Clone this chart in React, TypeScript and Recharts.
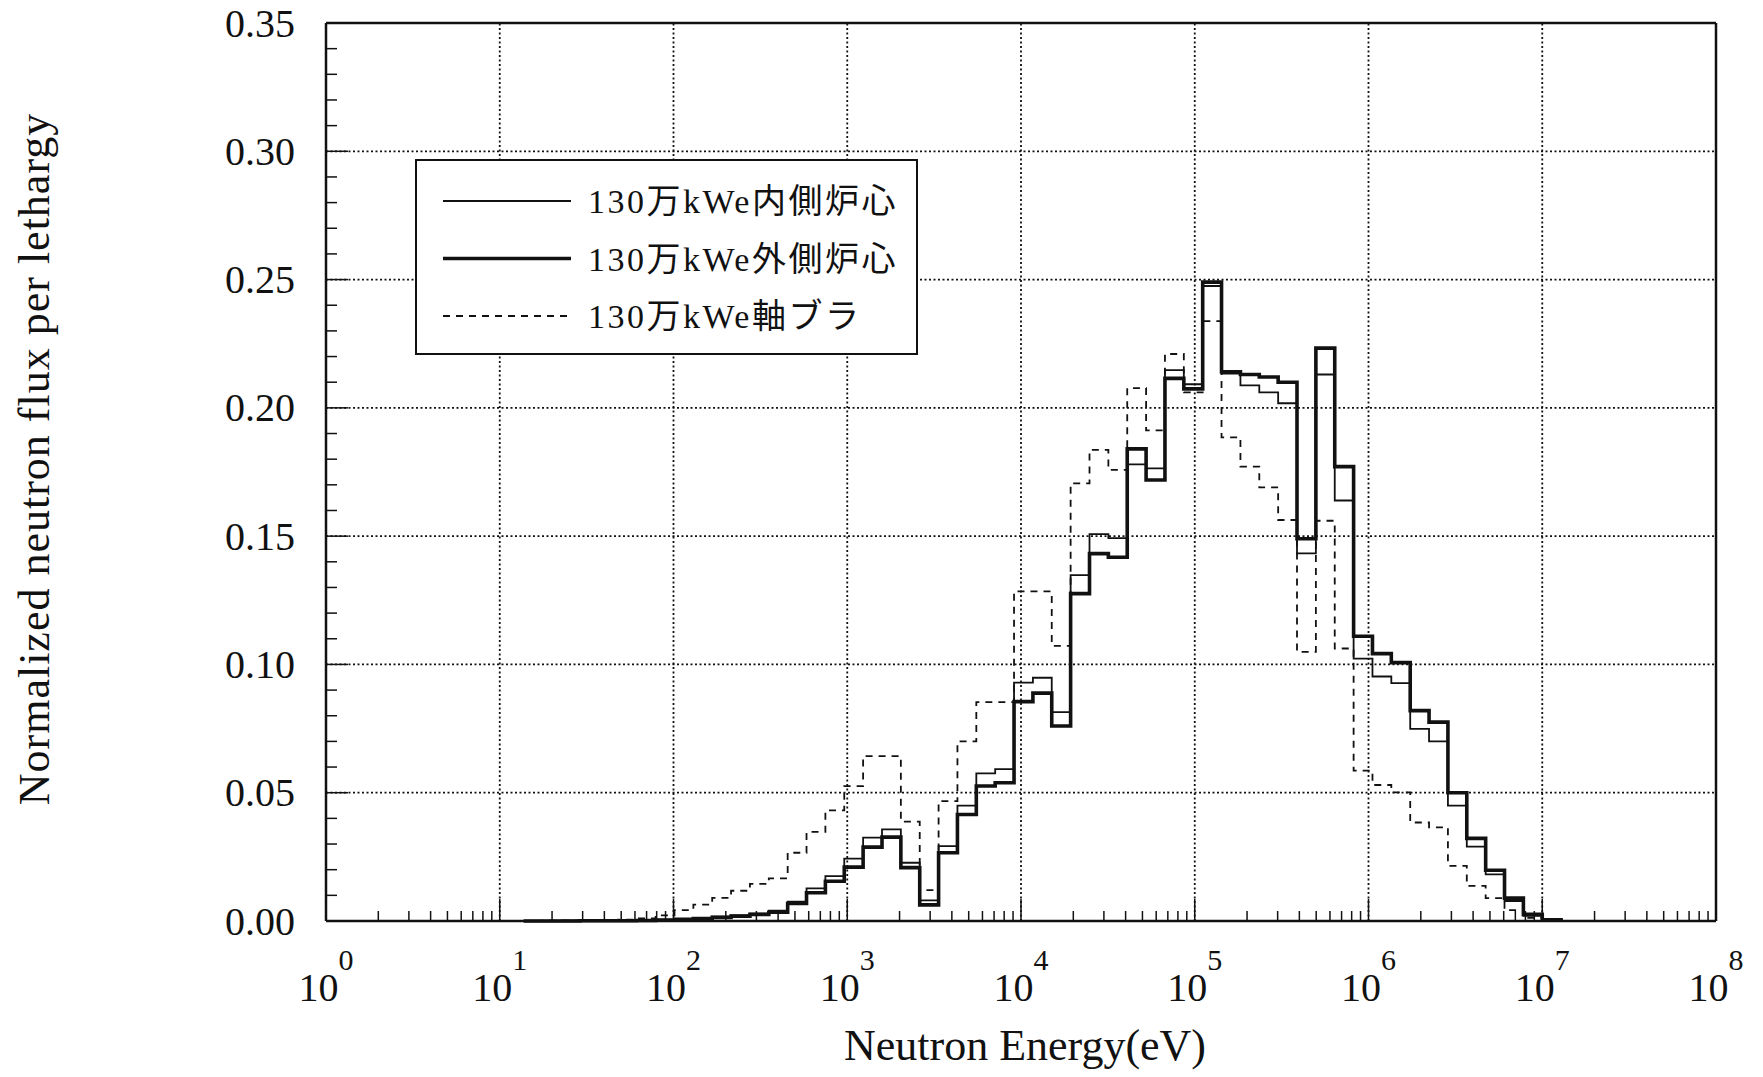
import React from 'react';
import { LineChart, Line, XAxis, YAxis, ReferenceLine } from 'recharts';

// lower edge of each energy group (eV), lowest first, last entry closes the top group
const EDGES_EV = [
  13.71, 17.6, 22.6, 29.02, 37.27, 47.85, 61.44, 78.89, 101.3, 130.1,
  167.0, 214.4, 275.4, 353.6, 454.0, 582.9, 748.5, 961.1, 1234, 1585,
  2035, 2613, 3355, 4307, 5531, 7102, 9119, 11710, 15030, 19300,
  24790, 31830, 40870, 52480, 67380, 86520, 111100, 142600, 183200, 235200,
  302000, 387700, 497900, 639300, 820900, 1054000, 1353000, 1738000, 2231000, 2865000,
  3679000, 4724000, 6065000, 7788000, 10000000, 12840000,
];

// 130万kWe内側炉心 (thin)
const INNER_CORE = [
  0.0, 0.0, 0.0001, 0.0001, 0.0001, 0.0002, 0.0003, 0.0005, 0.0008, 0.0012,
  0.0017, 0.0022, 0.0029, 0.004, 0.0075, 0.0127, 0.0175, 0.0243, 0.0325, 0.0357,
  0.0227, 0.008, 0.0292, 0.045, 0.0575, 0.0592, 0.0929, 0.0948, 0.0814, 0.1348,
  0.1508, 0.1492, 0.178, 0.1764, 0.2147, 0.2092, 0.2475, 0.2134, 0.2088, 0.206,
  0.2018, 0.1433, 0.213, 0.1639, 0.1023, 0.0953, 0.0927, 0.0749, 0.07, 0.045,
  0.029, 0.0182, 0.0078, 0.002, 0.0003, 0,
];

// 130万kWe外側炉心 (thick)
const OUTER_CORE = [
  0.0, 0.0, 0.0, 0.0001, 0.0001, 0.0001, 0.0002, 0.0004, 0.0007, 0.001,
  0.0014, 0.0019, 0.0026, 0.0034, 0.0068, 0.011, 0.0155, 0.021, 0.0288, 0.0327,
  0.0208, 0.0063, 0.0266, 0.0415, 0.0526, 0.0539, 0.0855, 0.0888, 0.076, 0.1276,
  0.1432, 0.1418, 0.184, 0.1719, 0.2115, 0.2074, 0.249, 0.2141, 0.213, 0.212,
  0.21, 0.149, 0.2233, 0.1771, 0.111, 0.1042, 0.1007, 0.082, 0.0775, 0.05,
  0.0322, 0.0198, 0.0089, 0.0026, 0.0005, 0,
];

// 130万kWe軸ブラ (dashed)
const AXIAL_BLANKET = [
  0.0, 0.0001, 0.0001, 0.0002, 0.0003, 0.0005, 0.001, 0.0022, 0.0042, 0.0064,
  0.009, 0.0118, 0.0145, 0.0166, 0.0266, 0.0347, 0.0431, 0.0526, 0.0643, 0.0643,
  0.0387, 0.012, 0.0467, 0.07, 0.0853, 0.0853, 0.1285, 0.1285, 0.1072, 0.1706,
  0.1836, 0.1758, 0.2077, 0.1912, 0.221, 0.206, 0.2338, 0.1885, 0.1771, 0.169,
  0.1563, 0.1049, 0.156, 0.1062, 0.0586, 0.053, 0.0501, 0.0384, 0.0365, 0.0215,
  0.0137, 0.0089, 0.0042, 0.0012, 0.0002, 0,
];

const DECADES = [1, 10, 100, 1e3, 1e4, 1e5, 1e6, 1e7, 1e8];
const X_TICKS = DECADES.flatMap((d) =>
  d === 1e8 ? [d] : [1, 2, 3, 4, 5, 6, 7, 8, 9].map((m) => m * d)
);
const Y_MAJOR = [0, 0.05, 0.1, 0.15, 0.2, 0.25, 0.3, 0.35];
const Y_LABELS = ['0.00', '0.05', '0.10', '0.15', '0.20', '0.25', '0.30', '0.35'];
const Y_TICKS = Array.from({ length: 36 }, (_, i) => i / 100);

const LEGEND = [
  { name: '130万kWe内側炉心', width: 1.8, dash: undefined },
  { name: '130万kWe外側炉心', width: 3.6, dash: undefined },
  { name: '130万kWe軸ブラ', width: 1.8, dash: '7 6' },
];

const data = EDGES_EV.map((e, i) => ({
  energy: e,
  inner: INNER_CORE[i],
  outer: OUTER_CORE[i],
  blanket: AXIAL_BLANKET[i],
}));

const SERIF = "'Liberation Serif', 'Times New Roman', serif";
const INK = '#111';

const XTick = (props: any) => {
  const { x, y, payload } = props;
  const v = payload.value;
  const exp = Math.round(Math.log10(v));
  const major = Math.abs(v - Math.pow(10, exp)) < v * 1e-9;
  return (
    <g>
      <line x1={x} x2={x} y1={y} y2={y - (major ? 22 : 10)} stroke={INK} strokeWidth={1.5} />
      {major && (
        <text x={x} y={y + 80} textAnchor="middle" fontFamily={SERIF} fontSize={40} fill={INK}>
          <tspan>10</tspan>
          <tspan dy={-31} fontSize={30}>{exp}</tspan>
        </text>
      )}
    </g>
  );
};

const YTick = (props: any) => {
  const { x, y, payload } = props;
  const idx = Y_MAJOR.findIndex((m) => Math.abs(m - payload.value) < 1e-9);
  const major = idx >= 0;
  return (
    <g>
      <line x1={x} x2={x + (major ? 22 : 11)} y1={y} y2={y} stroke={INK} strokeWidth={1.5} />
      {major && (
        <text x={x - 31} y={y} textAnchor="end" dominantBaseline="central" fontFamily={SERIF} fontSize={40} fill={INK}>
          {Y_LABELS[idx]}
        </text>
      )}
    </g>
  );
};

export default function App() {
  const W = 1763;
  const H = 1077;
  return (
    <div style={{ position: 'absolute', left: 0, top: 0, width: W, height: H, background: '#fff' }}>
      <LineChart width={W} height={H} data={data} margin={{ top: 23, right: 47, bottom: 56, left: 226 }}>
        <XAxis
          dataKey="energy"
          type="number"
          scale="log"
          domain={[1, 1e8]}
          ticks={X_TICKS}
          interval={0}
          height={100}
          tickSize={0}
          tickMargin={0}
          tickLine={false}
          axisLine={{ stroke: INK, strokeWidth: 2.5 }}
          tick={<XTick />}
          allowDataOverflow
        />
        <YAxis
          type="number"
          domain={[0, 0.35]}
          ticks={Y_TICKS}
          interval={0}
          width={100}
          tickSize={0}
          tickMargin={0}
          tickLine={false}
          axisLine={{ stroke: INK, strokeWidth: 2.5 }}
          tick={<YTick />}
        />
        {DECADES.slice(1, -1).map((d) => (
          <ReferenceLine key={'vx' + d} x={d} stroke={INK} strokeWidth={1.8} strokeDasharray="2 2.5" />
        ))}
        {Y_MAJOR.slice(1, -1).map((v) => (
          <ReferenceLine key={'hy' + v} y={v} stroke={INK} strokeWidth={1.8} strokeDasharray="2 2.5" />
        ))}
        <ReferenceLine x={1e8} stroke={INK} strokeWidth={2.5} />
        <ReferenceLine y={0.35} stroke={INK} strokeWidth={2.5} />
        <Line type="stepAfter" dataKey="blanket" stroke={INK} strokeWidth={1.8} strokeDasharray="7 6" dot={false} isAnimationActive={false} />
        <Line type="stepAfter" dataKey="inner" stroke={INK} strokeWidth={1.8} dot={false} isAnimationActive={false} />
        <Line type="stepAfter" dataKey="outer" stroke={INK} strokeWidth={3.6} dot={false} isAnimationActive={false} />
      </LineChart>

      <svg width={W} height={H} style={{ position: 'absolute', left: 0, top: 0, pointerEvents: 'none' }}>
        <text
          x={34}
          y={459}
          transform="rotate(-90 34 459)"
          textAnchor="middle"
          dominantBaseline="central"
          fontFamily={SERIF}
          fontSize={44}
          letterSpacing={1}
          fill={INK}
        >
          Normalized neutron flux per lethargy
        </text>
        <text x={1025} y={1060} textAnchor="middle" fontFamily={SERIF} fontSize={44} fill={INK}>
          Neutron Energy(eV)
        </text>

        <g transform="translate(416 160)">
          <rect x={0} y={0} width={501} height={194} fill="#fff" stroke={INK} strokeWidth={2} />
          {LEGEND.map((item, i) => {
            const cy = 41 + i * 57.5;
            return (
              <g key={item.name}>
                <line x1={27} x2={155} y1={cy} y2={cy} stroke={INK} strokeWidth={item.width} strokeDasharray={item.dash} />
                <text
                  x={172}
                  y={cy + 12}
                  fontFamily={"'Liberation Serif', 'Noto Sans CJK JP', serif"}
                  fontSize={34}
                  letterSpacing={2.5}
                  fill={INK}
                >
                  {item.name}
                </text>
              </g>
            );
          })}
        </g>
      </svg>
    </div>
  );
}
